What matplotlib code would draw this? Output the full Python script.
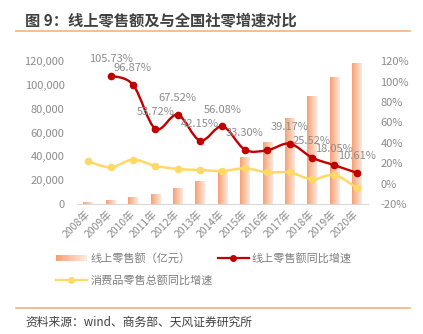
import numpy as np
import matplotlib
matplotlib.use("Agg")
import matplotlib.pyplot as plt
from matplotlib.path import Path
from matplotlib.patches import PathPatch, Rectangle
from matplotlib.lines import Line2D
from matplotlib.legend_handler import HandlerBase

plt.rcParams['font.family'] = ['Noto Sans CJK SC', 'DejaVu Sans']

years = ['2008年', '2009年', '2010年', '2011年', '2012年', '2013年', '2014年',
         '2015年', '2016年', '2017年', '2018年', '2019年', '2020年']
online_sales = [1300, 2600, 5100, 7800, 13100, 18600, 28000,
                38800, 51600, 71800, 90100, 106300, 117600]   # 亿元
online_growth = [None, 105.73, 96.87, 53.72, 67.52, 42.15, 56.08,
                 33.30, 32.7, 39.17, 25.52, 18.05, 10.61]     # %
retail_growth = [21.7, 16.0, 23.5, 17.4, 14.4, 13.3, 12.4,
                 15.0, 11.0, 11.1, 4.2, 8.5, -4.2]            # %
labeled = [1, 2, 3, 4, 5, 6, 7, 9, 10, 11, 12]

GRAY = '#8C8C8C'
RED = '#C00000'
YEL = '#FFD966'
ORANGE = '#F4B183'
c_left = np.array([247, 160, 115]) / 255
c_right = np.array([254, 232, 220]) / 255


def smooth_path(xs, ys):
    # excel-like smoothed line: catmull-rom converted to bezier segments
    pts = np.column_stack([xs, ys]).astype(float)
    n = len(pts)
    verts = [pts[0]]
    codes = [Path.MOVETO]
    for i in range(n - 1):
        p0 = pts[max(i - 1, 0)]
        p1 = pts[i]
        p2 = pts[i + 1]
        p3 = pts[min(i + 2, n - 1)]
        verts += [p1 + (p2 - p0) / 6, p2 - (p3 - p1) / 6, p2]
        codes += [Path.CURVE4] * 3
    return Path(verts, codes)


class GradientHandler(HandlerBase):
    def create_artists(self, legend, orig_handle, xdescent, ydescent,
                       width, height, fontsize, trans):
        arts = []
        k = 12
        for j in range(k):
            t = j / (k - 1)
            col = c_left * (1 - t) + c_right * t
            r = Rectangle((-xdescent + width * j / k, -ydescent + height * 0.1),
                          width / k + 0.3, height * 0.8, facecolor=col,
                          edgecolor='none', transform=trans)
            arts.append(r)
        return arts


fig = plt.figure(figsize=(4.23, 3.34), dpi=100)
ax = fig.add_axes([0.182, 0.389, 0.688, 0.428])
ax2 = ax.twinx()

x = np.arange(len(years))
bars = ax.bar(x, online_sales, width=0.42, color='none', edgecolor='none')
grad = np.linspace(0, 1, 64)
img = (c_left[None, :] * (1 - grad[:, None]) + c_right[None, :] * grad[:, None])[None, :, :]
for b in bars:
    ax.imshow(img, extent=[b.get_x(), b.get_x() + b.get_width(), 0, b.get_height()],
              aspect='auto', zorder=2, interpolation='bilinear')

ax.set_xlim(-0.5, len(years) - 0.5)
ax.set_ylim(0, 120000)
ax.set_yticks(range(0, 120001, 20000))
ax.set_yticklabels([f'{v:,}' for v in range(0, 120001, 20000)])
ax2.set_ylim(-20, 120)
ax2.set_yticks(range(-20, 121, 20))
ax2.set_yticklabels([f'{v}%' for v in range(-20, 121, 20)])

ax.set_xticks(x)
ax.set_xticklabels(years, rotation=45, ha='right', va='center', rotation_mode='anchor')

for a in (ax, ax2):
    for s in a.spines.values():
        s.set_visible(False)
    a.tick_params(length=0, colors=GRAY, labelsize=8)
ax.spines['bottom'].set_visible(True)
ax.spines['bottom'].set_color('#D9D9D9')
ax.tick_params(axis='y', pad=9)
ax.tick_params(axis='x', pad=6, labelsize=7.5)
ax2.tick_params(axis='y', pad=9)

# yellow line
ax2.add_patch(PathPatch(smooth_path(x, retail_growth), fill=False, edgecolor=YEL,
                        lw=1.8, zorder=3))
ax2.plot(x, retail_growth, 'o', color=YEL, ms=4.5, zorder=4)

# red line
rx = [i for i, v in enumerate(online_growth) if v is not None]
ry = [online_growth[i] for i in rx]
ax2.add_patch(PathPatch(smooth_path(rx, ry), fill=False, edgecolor=RED,
                        lw=1.7, zorder=5))
ax2.plot(rx, ry, 'o', color=RED, ms=4.5, zorder=6)
for i in labeled:
    ax2.annotate(f'{online_growth[i]:.2f}%', (i, online_growth[i]), xytext=(0, 12),
                 textcoords='offset points', ha='center', va='center',
                 fontsize=8, color=GRAY, zorder=7)

h_bar = Rectangle((0, 0), 1, 1)
h_yel = Line2D([], [], color=YEL, lw=1.6, marker='o', ms=4)
h_red = Line2D([], [], color=RED, lw=1.6, marker='o', ms=4)
fig.legend([h_bar, h_yel, h_red],
           ['线上零售额（亿元）', '消费品零售总额同比增速', '线上零售额同比增速'],
           handler_map={Rectangle: GradientHandler()},
           ncol=2, loc='upper left', bbox_to_anchor=(0.108, 0.272),
           frameon=False, fontsize=8, labelcolor='#7F7F7F',
           handlelength=2.8, handletextpad=0.3, columnspacing=0.45,
           labelspacing=1.0)

fig.text(0.06, 0.94, '图 9：线上零售额及与全国社零增速对比', fontsize=11,
         weight='bold', color='#404040', va='center')
fig.add_artist(Line2D([0.038, 0.97], [0.907, 0.907], color=ORANGE, lw=1.2))
fig.add_artist(Line2D([0.038, 0.97], [0.078, 0.078], color=ORANGE, lw=1.2))
fig.text(0.06, 0.036, '资料来源：wind、商务部、天风证券研究所', fontsize=8.5,
         color='#404040', va='center')

fig.savefig('out.png', dpi=100)
